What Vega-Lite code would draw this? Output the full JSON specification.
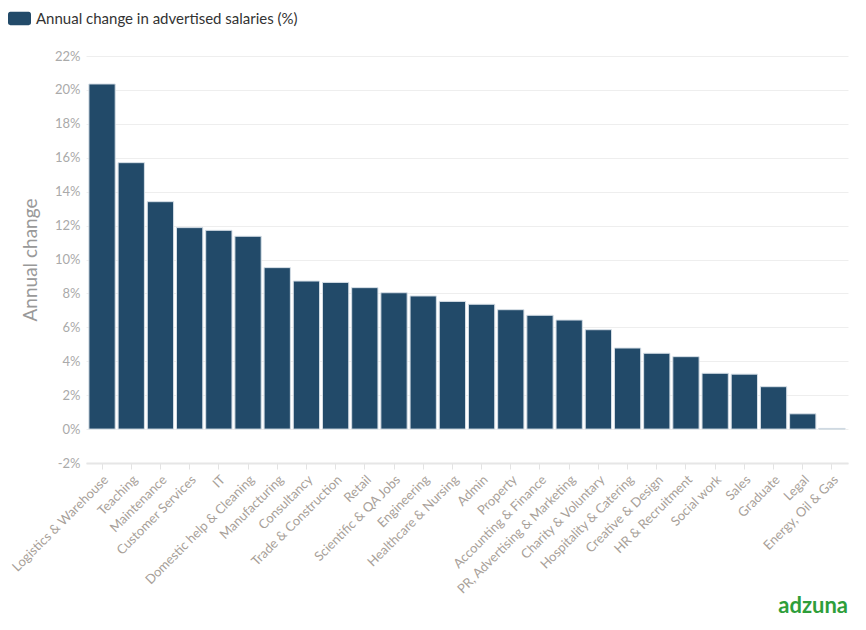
{
  "$schema": "https://vega.github.io/schema/vega-lite/v6.json",
  "description": "Annual change in advertised salaries by job category.",
  "autosize": {"type": "none"},
  "padding": {"left": 86, "top": 56, "right": 18, "bottom": 167},
  "width": 762,
  "height": 407,
  "background": "white",
  "data": {
    "values": [
      {"category": "Logistics & Warehouse", "change": 20.35},
      {"category": "Teaching", "change": 15.71},
      {"category": "Maintenance", "change": 13.41},
      {"category": "Customer Services", "change": 11.88},
      {"category": "IT", "change": 11.72},
      {"category": "Domestic help & Cleaning", "change": 11.37},
      {"category": "Manufacturing", "change": 9.52},
      {"category": "Consultancy", "change": 8.73},
      {"category": "Trade & Construction", "change": 8.65},
      {"category": "Retail", "change": 8.34},
      {"category": "Scientific & QA Jobs", "change": 8.04},
      {"category": "Engineering", "change": 7.85},
      {"category": "Healthcare & Nursing", "change": 7.53},
      {"category": "Admin", "change": 7.36},
      {"category": "Property", "change": 7.04},
      {"category": "Accounting & Finance", "change": 6.71},
      {"category": "PR, Advertising & Marketing", "change": 6.43},
      {"category": "Charity & Voluntary", "change": 5.86},
      {"category": "Hospitality & Catering", "change": 4.78},
      {"category": "Creative & Design", "change": 4.47},
      {"category": "HR & Recruitment", "change": 4.27},
      {"category": "Social work", "change": 3.29},
      {"category": "Sales", "change": 3.24},
      {"category": "Graduate", "change": 2.5},
      {"category": "Legal", "change": 0.9},
      {"category": "Energy, Oil & Gas", "change": 0.04}
    ]
  },
  "title": {
    "text": "adzuna",
    "orient": "bottom",
    "anchor": "end",
    "color": "#2e9e3a",
    "fontSize": 22,
    "fontWeight": "bold",
    "font": "Lato",
    "offset": 0
  },
  "mark": {"type": "bar", "stroke": "#d5dee6", "strokeWidth": 1},
  "encoding": {
    "x": {
      "field": "category",
      "type": "nominal",
      "sort": null,
      "title": null,
      "scale": {"paddingInner": 0.1, "paddingOuter": 0.1},
      "axis": {
        "labelAngle": -45,
        "labelFontSize": 13,
        "labelColor": "#a89f99",
        "tickColor": "#e3e3e3",
        "tickSize": 6,
        "domainColor": "#e6e6e6",
        "domainWidth": 2,
        "labelPadding": 4
      }
    },
    "y": {
      "field": "change",
      "type": "quantitative",
      "title": "Annual change",
      "scale": {"domain": [-2, 22], "nice": false, "zero": false},
      "axis": {
        "values": [-2, 0, 2, 4, 6, 8, 10, 12, 14, 16, 18, 20, 22],
        "labelExpr": "datum.value + '%'",
        "labelColor": "#aaaaaa",
        "labelFontSize": 13,
        "labelPadding": 6,
        "domain": false,
        "ticks": false,
        "gridColor": "#eeeeee",
        "titleColor": "#999999",
        "titleFontSize": 19,
        "titleFontWeight": "normal",
        "titlePadding": 14
      }
    },
    "color": {
      "datum": "Annual change in advertised salaries (%)",
      "type": "nominal",
      "scale": {"range": ["#224a69"]},
      "legend": {
        "title": null,
        "orient": "none",
        "legendX": -78,
        "legendY": -49,
        "symbolType": "M-0.8,-0.58H0.8A0.2,0.2 0 0 1 1,-0.38V0.38A0.2,0.2 0 0 1 0.8,0.58H-0.8A0.2,0.2 0 0 1 -1,0.38V-0.38A0.2,0.2 0 0 1 -0.8,-0.58Z",
        "symbolSize": 529,
        "symbolFillColor": "#0f3a5c",
        "symbolStrokeWidth": 0,
        "labelFontSize": 15,
        "labelColor": "#333333",
        "labelOffset": 5,
        "labelLimit": 400
      }
    }
  },
  "config": {
    "font": "Lato",
    "view": {"stroke": null}
  }
}
